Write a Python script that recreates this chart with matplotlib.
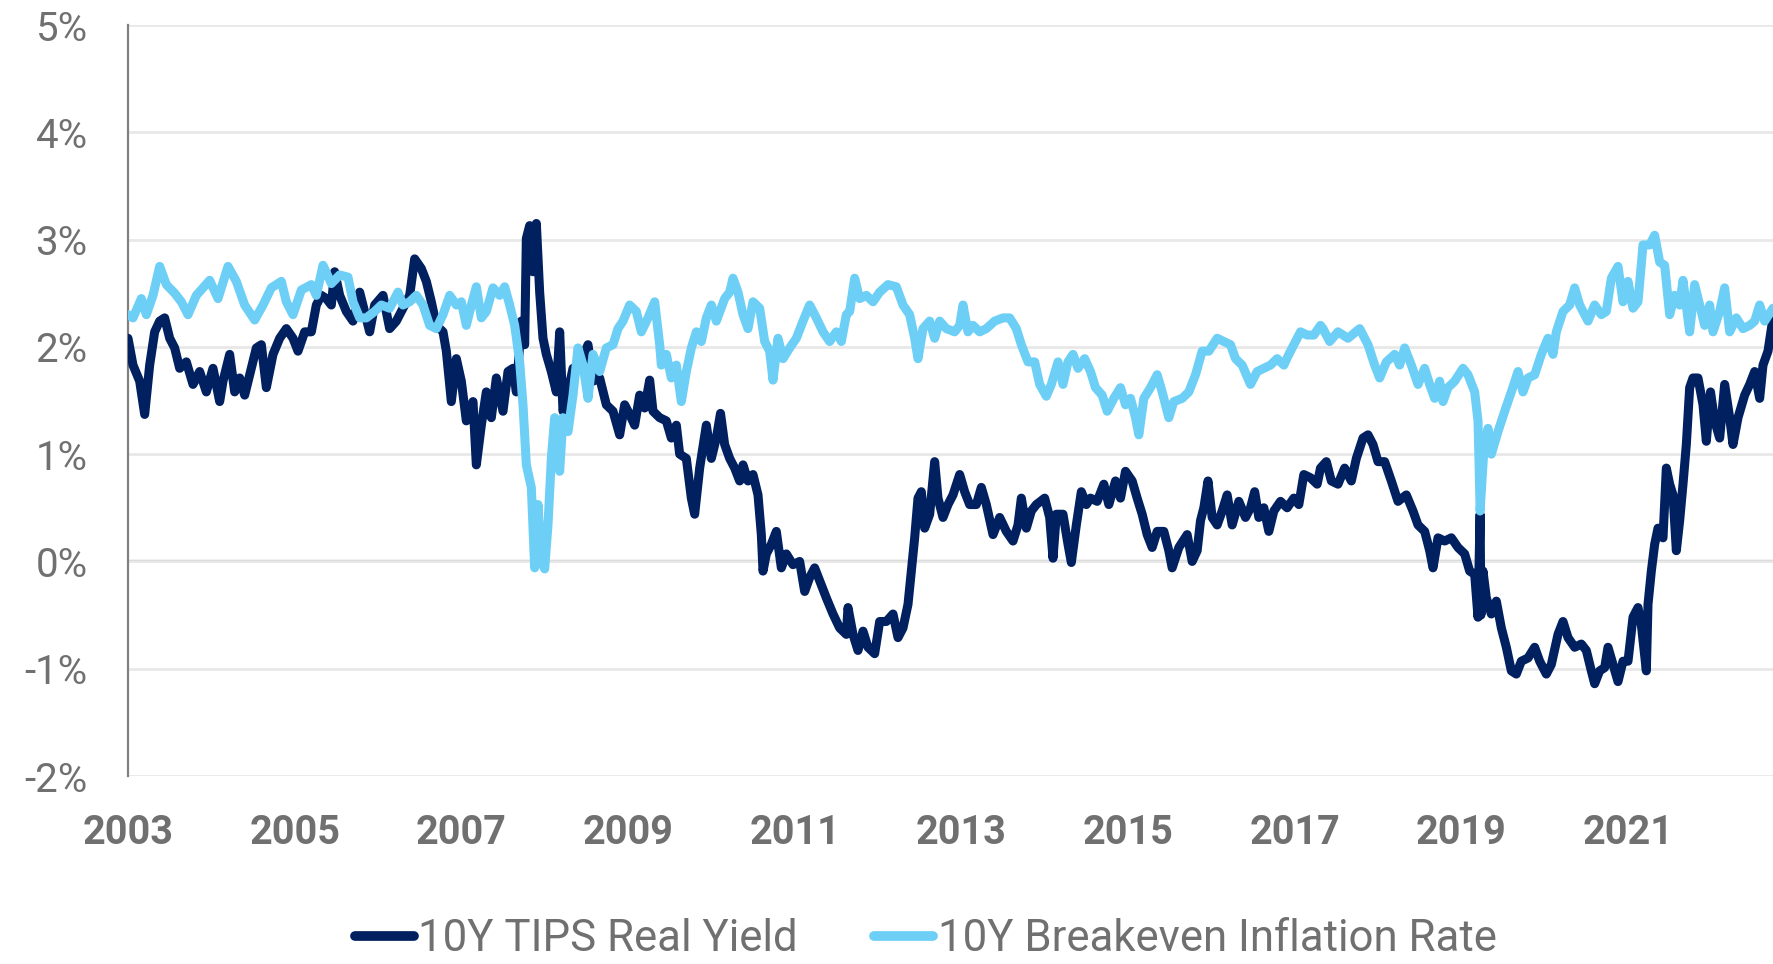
import matplotlib
matplotlib.use("Agg")
import matplotlib.pyplot as plt
from matplotlib.ticker import FuncFormatter, MultipleLocator

# ---- data (decimal years, percent) ----
tips_years = [
    2003.00, 2003.06, 2003.14, 2003.20, 2003.26, 2003.32, 2003.38, 2003.44, 2003.50, 2003.56,
    2003.62, 2003.70, 2003.78, 2003.86, 2003.94, 2004.02, 2004.10, 2004.14, 2004.22, 2004.28,
    2004.34, 2004.40, 2004.48, 2004.54, 2004.60, 2004.66, 2004.74, 2004.82, 2004.90, 2004.98,
    2005.04, 2005.12, 2005.20, 2005.26, 2005.32, 2005.38, 2005.44, 2005.48, 2005.54, 2005.62,
    2005.70, 2005.78, 2005.90, 2005.96, 2006.06, 2006.14, 2006.22, 2006.30, 2006.38, 2006.44,
    2006.52, 2006.58, 2006.64, 2006.70, 2006.78, 2006.82, 2006.88, 2006.94, 2007.00, 2007.06,
    2007.14, 2007.18, 2007.24, 2007.30, 2007.36, 2007.42, 2007.50, 2007.56, 2007.62, 2007.66,
    2007.72, 2007.76, 2007.78, 2007.82, 2007.86, 2007.90, 2007.94, 2007.98, 2008.02, 2008.08,
    2008.14, 2008.18, 2008.22, 2008.28, 2008.34, 2008.42, 2008.52, 2008.58, 2008.66, 2008.74,
    2008.82, 2008.90, 2008.96, 2009.02, 2009.08, 2009.14, 2009.20, 2009.26, 2009.30, 2009.38,
    2009.46, 2009.52, 2009.58, 2009.62, 2009.70, 2009.76, 2009.80, 2009.86, 2009.94, 2010.00,
    2010.06, 2010.11, 2010.16, 2010.22, 2010.28, 2010.34, 2010.38, 2010.44, 2010.50, 2010.56,
    2010.60, 2010.62, 2010.66, 2010.72, 2010.78, 2010.84, 2010.90, 2010.98, 2011.06, 2011.12,
    2011.18, 2011.24, 2011.30, 2011.38, 2011.46, 2011.54, 2011.62, 2011.64, 2011.70, 2011.76,
    2011.82, 2011.88, 2011.96, 2012.02, 2012.10, 2012.18, 2012.24, 2012.30, 2012.36, 2012.40,
    2012.44, 2012.48, 2012.52, 2012.56, 2012.62, 2012.68, 2012.72, 2012.78, 2012.84, 2012.90,
    2012.98, 2013.04, 2013.10, 2013.18, 2013.24, 2013.30, 2013.38, 2013.46, 2013.54, 2013.62,
    2013.68, 2013.72, 2013.78, 2013.84, 2013.90, 2014.00, 2014.06, 2014.10, 2014.14, 2014.22,
    2014.28, 2014.32, 2014.38, 2014.44, 2014.50, 2014.55, 2014.63, 2014.71, 2014.77, 2014.85,
    2014.91, 2014.97, 2015.05, 2015.11, 2015.17, 2015.23, 2015.29, 2015.35, 2015.43, 2015.49,
    2015.53, 2015.61, 2015.71, 2015.77, 2015.83, 2015.87, 2015.91, 2015.96, 2016.01, 2016.07,
    2016.13, 2016.19, 2016.25, 2016.33, 2016.41, 2016.47, 2016.52, 2016.57, 2016.63, 2016.69,
    2016.75, 2016.83, 2016.91, 2016.99, 2017.05, 2017.11, 2017.19, 2017.27, 2017.31, 2017.38,
    2017.44, 2017.52, 2017.60, 2017.68, 2017.74, 2017.82, 2017.88, 2017.94, 2018.00, 2018.08,
    2018.16, 2018.24, 2018.34, 2018.42, 2018.48, 2018.56, 2018.62, 2018.66, 2018.72, 2018.80,
    2018.88, 2018.96, 2019.04, 2019.10, 2019.16, 2019.20, 2019.225, 2019.235, 2019.26, 2019.30,
    2019.36, 2019.42, 2019.48, 2019.54, 2019.60, 2019.66, 2019.72, 2019.80, 2019.88, 2019.94,
    2020.02, 2020.08, 2020.16, 2020.22, 2020.28, 2020.36, 2020.44, 2020.50, 2020.56, 2020.60,
    2020.66, 2020.72, 2020.76, 2020.82, 2020.88, 2020.94, 2021.00, 2021.06, 2021.12, 2021.16,
    2021.22, 2021.24, 2021.28, 2021.32, 2021.36, 2021.42, 2021.46, 2021.50, 2021.54, 2021.58,
    2021.62, 2021.66, 2021.70, 2021.74, 2021.78, 2021.84, 2021.90, 2021.94, 2021.99, 2022.04,
    2022.10, 2022.16, 2022.22, 2022.26, 2022.32, 2022.40, 2022.46, 2022.52, 2022.58, 2022.62,
    2022.68, 2022.74,
]
tips_values = [
    2.08, 1.83, 1.68, 1.37, 1.83, 2.14, 2.24, 2.27, 2.08, 1.99,
    1.80, 1.86, 1.65, 1.77, 1.58, 1.80, 1.49, 1.68, 1.93, 1.58,
    1.71, 1.55, 1.80, 1.99, 2.02, 1.62, 1.93, 2.08, 2.17, 2.08,
    1.96, 2.14, 2.14, 2.39, 2.48, 2.45, 2.39, 2.70, 2.48, 2.33,
    2.24, 2.51, 2.14, 2.39, 2.48, 2.17, 2.24, 2.36, 2.48, 2.82,
    2.73, 2.61, 2.42, 2.20, 2.14, 1.96, 1.49, 1.89, 1.68, 1.31,
    1.49, 0.90, 1.27, 1.58, 1.34, 1.71, 1.40, 1.77, 1.80, 1.58,
    2.24, 2.02, 3.01, 3.13, 2.70, 3.15, 2.51, 2.08, 1.93, 1.77,
    1.58, 2.14, 1.40, 1.58, 1.80, 1.83, 2.02, 1.68, 1.71, 1.46,
    1.40, 1.18, 1.46, 1.37, 1.27, 1.55, 1.43, 1.69, 1.40, 1.34,
    1.31, 1.15, 1.27, 1.00, 0.96, 0.59, 0.44, 0.87, 1.27, 0.96,
    1.15, 1.38, 1.09, 0.96, 0.87, 0.75, 0.90, 0.75, 0.81, 0.62,
    0.25, -0.09, 0.07, 0.16, 0.28, -0.06, 0.07, -0.03, 0.00, -0.28,
    -0.15, -0.06, -0.18, -0.34, -0.49, -0.62, -0.68, -0.43, -0.68, -0.83,
    -0.65, -0.80, -0.86, -0.56, -0.56, -0.49, -0.71, -0.62, -0.40, -0.09,
    0.22, 0.59, 0.65, 0.31, 0.44, 0.93, 0.59, 0.41, 0.53, 0.62,
    0.81, 0.65, 0.53, 0.53, 0.69, 0.53, 0.25, 0.41, 0.28, 0.19,
    0.34, 0.59, 0.31, 0.47, 0.53, 0.59, 0.41, 0.03, 0.44, 0.44,
    0.16, -0.01, 0.34, 0.65, 0.53, 0.59, 0.56, 0.72, 0.53, 0.75,
    0.59, 0.84, 0.75, 0.59, 0.44, 0.25, 0.13, 0.28, 0.28, 0.10,
    -0.06, 0.13, 0.25, 0.00, 0.10, 0.38, 0.50, 0.75, 0.41, 0.34,
    0.47, 0.62, 0.34, 0.56, 0.41, 0.50, 0.65, 0.41, 0.50, 0.28,
    0.47, 0.56, 0.50, 0.59, 0.53, 0.81, 0.78, 0.72, 0.87, 0.93,
    0.75, 0.72, 0.87, 0.75, 0.96, 1.15, 1.18, 1.09, 0.93, 0.93,
    0.75, 0.56, 0.62, 0.47, 0.34, 0.28, 0.10, -0.06, 0.22, 0.19,
    0.22, 0.13, 0.07, -0.09, -0.12, -0.52, 0.44, -0.50, -0.09, -0.34,
    -0.49, -0.37, -0.62, -0.80, -1.02, -1.05, -0.93, -0.90, -0.80, -0.93,
    -1.05, -0.96, -0.68, -0.56, -0.71, -0.80, -0.77, -0.83, -1.02, -1.14,
    -1.02, -0.99, -0.80, -0.96, -1.12, -0.93, -0.93, -0.52, -0.43, -0.59,
    -1.02, -0.40, -0.09, 0.16, 0.31, 0.22, 0.87, 0.72, 0.62, 0.10,
    0.38, 0.72, 1.09, 1.62, 1.71, 1.71, 1.46, 1.12, 1.58, 1.31,
    1.15, 1.65, 1.34, 1.09, 1.34, 1.55, 1.65, 1.77, 1.52, 1.83,
    1.96, 2.27,
]

be_years = [
    2003.00, 2003.06, 2003.16, 2003.22, 2003.30, 2003.38, 2003.46, 2003.56, 2003.64, 2003.72,
    2003.82, 2003.98, 2004.08, 2004.20, 2004.30, 2004.40, 2004.52, 2004.62, 2004.72, 2004.84,
    2004.90, 2004.98, 2005.08, 2005.20, 2005.26, 2005.34, 2005.44, 2005.54, 2005.64, 2005.70,
    2005.78, 2005.86, 2005.96, 2006.04, 2006.14, 2006.24, 2006.30, 2006.38, 2006.46, 2006.54,
    2006.62, 2006.70, 2006.78, 2006.86, 2006.94, 2007.00, 2007.06, 2007.12, 2007.18, 2007.24,
    2007.30, 2007.38, 2007.46, 2007.52, 2007.58, 2007.64, 2007.70, 2007.74, 2007.78, 2007.84,
    2007.88, 2007.92, 2007.96, 2008.00, 2008.04, 2008.08, 2008.12, 2008.18, 2008.22, 2008.28,
    2008.34, 2008.40, 2008.46, 2008.52, 2008.58, 2008.66, 2008.74, 2008.82, 2008.88, 2008.94,
    2009.02, 2009.10, 2009.16, 2009.24, 2009.32, 2009.38, 2009.40, 2009.46, 2009.52, 2009.58,
    2009.64, 2009.70, 2009.76, 2009.82, 2009.88, 2009.94, 2010.00, 2010.06, 2010.16, 2010.22,
    2010.26, 2010.32, 2010.38, 2010.44, 2010.50, 2010.58, 2010.64, 2010.70, 2010.74, 2010.80,
    2010.86, 2010.94, 2011.02, 2011.10, 2011.18, 2011.26, 2011.34, 2011.42, 2011.50, 2011.56,
    2011.62, 2011.66, 2011.72, 2011.78, 2011.86, 2011.94, 2012.02, 2012.12, 2012.22, 2012.30,
    2012.38, 2012.44, 2012.48, 2012.54, 2012.62, 2012.68, 2012.74, 2012.82, 2012.92, 2012.98,
    2013.02, 2013.08, 2013.14, 2013.22, 2013.30, 2013.40, 2013.50, 2013.58, 2013.66, 2013.72,
    2013.80, 2013.88, 2013.94, 2014.02, 2014.08, 2014.16, 2014.22, 2014.28, 2014.34, 2014.40,
    2014.48, 2014.55, 2014.61, 2014.69, 2014.75, 2014.83, 2014.91, 2014.97, 2015.03, 2015.09,
    2015.13, 2015.19, 2015.27, 2015.35, 2015.41, 2015.49, 2015.55, 2015.65, 2015.73, 2015.81,
    2015.89, 2015.97, 2016.07, 2016.15, 2016.23, 2016.29, 2016.37, 2016.47, 2016.55, 2016.63,
    2016.71, 2016.79, 2016.87, 2016.93, 2016.99, 2017.07, 2017.15, 2017.23, 2017.31, 2017.34,
    2017.42, 2017.52, 2017.64, 2017.78, 2017.88, 2017.96, 2018.02, 2018.10, 2018.20, 2018.26,
    2018.32, 2018.40, 2018.48, 2018.56, 2018.62, 2018.68, 2018.74, 2018.78, 2018.84, 2018.92,
    2019.02, 2019.08, 2019.16, 2019.20, 2019.215, 2019.225, 2019.27, 2019.32, 2019.36, 2019.44,
    2019.52, 2019.60, 2019.68, 2019.74, 2019.80, 2019.88, 2019.96, 2020.04, 2020.10, 2020.14,
    2020.22, 2020.30, 2020.36, 2020.42, 2020.52, 2020.60, 2020.68, 2020.74, 2020.80, 2020.88,
    2020.94, 2021.00, 2021.06, 2021.12, 2021.18, 2021.26, 2021.32, 2021.38, 2021.44, 2021.50,
    2021.56, 2021.62, 2021.66, 2021.74, 2021.80, 2021.86, 2021.92, 2021.98, 2022.02, 2022.10,
    2022.16, 2022.22, 2022.30, 2022.38, 2022.46, 2022.52, 2022.58, 2022.64, 2022.74,
]
be_values = [
    2.30, 2.27, 2.45, 2.30, 2.48, 2.75, 2.58, 2.50, 2.42, 2.30,
    2.48, 2.62, 2.45, 2.75, 2.61, 2.39, 2.25, 2.39, 2.55, 2.61,
    2.42, 2.30, 2.53, 2.58, 2.48, 2.76, 2.59, 2.67, 2.65, 2.42,
    2.27, 2.27, 2.33, 2.39, 2.36, 2.51, 2.39, 2.42, 2.48, 2.39,
    2.20, 2.17, 2.30, 2.48, 2.39, 2.42, 2.20, 2.39, 2.56, 2.27,
    2.33, 2.55, 2.48, 2.56, 2.39, 2.20, 1.86, 1.46, 0.90, 0.69,
    -0.06, 0.53, 0.00, -0.07, 0.34, 0.96, 1.34, 0.84, 1.34, 1.21,
    1.55, 1.99, 1.83, 1.52, 1.93, 1.77, 1.99, 2.02, 2.17, 2.24,
    2.39, 2.33, 2.14, 2.27, 2.42, 2.02, 1.83, 1.93, 1.71, 1.83,
    1.49, 1.77, 1.99, 2.14, 2.05, 2.27, 2.39, 2.24, 2.45, 2.51,
    2.64, 2.51, 2.30, 2.17, 2.42, 2.36, 2.05, 1.96, 1.69, 2.08,
    1.89, 1.99, 2.08, 2.24, 2.39, 2.27, 2.14, 2.05, 2.14, 2.05,
    2.30, 2.33, 2.64, 2.45, 2.48, 2.42, 2.51, 2.58, 2.56, 2.39,
    2.30, 2.08, 1.89, 2.17, 2.24, 2.08, 2.24, 2.17, 2.14, 2.20,
    2.39, 2.14, 2.20, 2.14, 2.17, 2.24, 2.27, 2.27, 2.17, 2.02,
    1.86, 1.86, 1.65, 1.54, 1.65, 1.86, 1.65, 1.86, 1.93, 1.80,
    1.89, 1.77, 1.62, 1.55, 1.40, 1.52, 1.62, 1.46, 1.52, 1.34,
    1.18, 1.52, 1.62, 1.74, 1.58, 1.34, 1.49, 1.52, 1.58, 1.74,
    1.96, 1.96, 2.08, 2.05, 2.02, 1.89, 1.83, 1.65, 1.77, 1.80,
    1.83, 1.89, 1.83, 1.93, 2.02, 2.14, 2.11, 2.11, 2.20, 2.17,
    2.05, 2.14, 2.08, 2.17, 2.02, 1.83, 1.71, 1.86, 1.93, 1.83,
    1.99, 1.83, 1.65, 1.80, 1.65, 1.52, 1.68, 1.49, 1.62, 1.68,
    1.80, 1.74, 1.58, 1.31, 0.84, 0.47, 1.03, 1.24, 1.00, 1.21,
    1.40, 1.58, 1.77, 1.58, 1.71, 1.74, 1.93, 2.08, 1.93, 2.14,
    2.33, 2.39, 2.55, 2.39, 2.24, 2.39, 2.30, 2.33, 2.64, 2.75,
    2.42, 2.61, 2.36, 2.42, 2.95, 2.95, 3.04, 2.79, 2.76, 2.30,
    2.48, 2.39, 2.62, 2.14, 2.58, 2.39, 2.20, 2.39, 2.14, 2.33,
    2.55, 2.14, 2.27, 2.17, 2.20, 2.24, 2.39, 2.24, 2.36,
]

series_labels = ["10Y TIPS Real Yield", "10Y Breakeven Inflation Rate"]
series_colors = ["#002060", "#6DCFF6"]
x_ticks = [2003, 2005, 2007, 2009, 2011, 2013, 2015, 2017, 2019, 2021]

# ---- figure ----
plt.rcParams['font.family'] = ['Roboto', 'DejaVu Sans']
fig = plt.figure(figsize=(17.73, 9.64), dpi=100)
ax = fig.add_axes([128 / 1773, 188 / 964, 1 - 128 / 1773, (776 - 25) / 964])

grey = "#707070"
ax.plot(tips_years, tips_values, color=series_colors[0], lw=6.5,
        solid_joinstyle='round', solid_capstyle='round', label=series_labels[0], zorder=3)
ax.plot(be_years, be_values, color=series_colors[1], lw=6.5,
        solid_joinstyle='round', solid_capstyle='round', label=series_labels[1], zorder=3)

ax.set_xlim(2003, 2022.74)
ax.set_ylim(-2, 5)
ax.yaxis.set_major_locator(MultipleLocator(1))
ax.yaxis.set_major_formatter(FuncFormatter(lambda v, p: f"{int(round(v))}%"))
ax.set_xticks(x_ticks)
ax.set_xticklabels([str(t) for t in x_ticks])

ax.grid(axis='y', color='#e8e8e8', lw=2, zorder=0)
ax.axhline(0, color='#808080', lw=1.6, zorder=1)
for s in ['top', 'right', 'bottom']:
    ax.spines[s].set_visible(False)
ax.spines['left'].set_color('#808080')
ax.spines['left'].set_linewidth(1.6)

ax.tick_params(axis='y', length=0, pad=29, labelsize=29, labelcolor=grey)
ax.tick_params(axis='x', length=0, pad=27, labelsize=28.5, labelcolor=grey)
for lab in ax.get_xticklabels():
    lab.set_fontweight('bold')

leg = fig.legend(loc='center', bbox_to_anchor=(0.522, 0.026), ncol=2, frameon=False,
                 prop={'family': ['Roboto'], 'size': 31.5},
                 handlelength=1.35, handletextpad=0.1, columnspacing=1.75,
                 borderpad=0.2)
for t in leg.get_texts():
    t.set_color(grey)
for h in leg.legend_handles:
    h.set_linewidth(7)
    h.set_solid_capstyle('round')

fig.savefig("out.png", dpi=100)
